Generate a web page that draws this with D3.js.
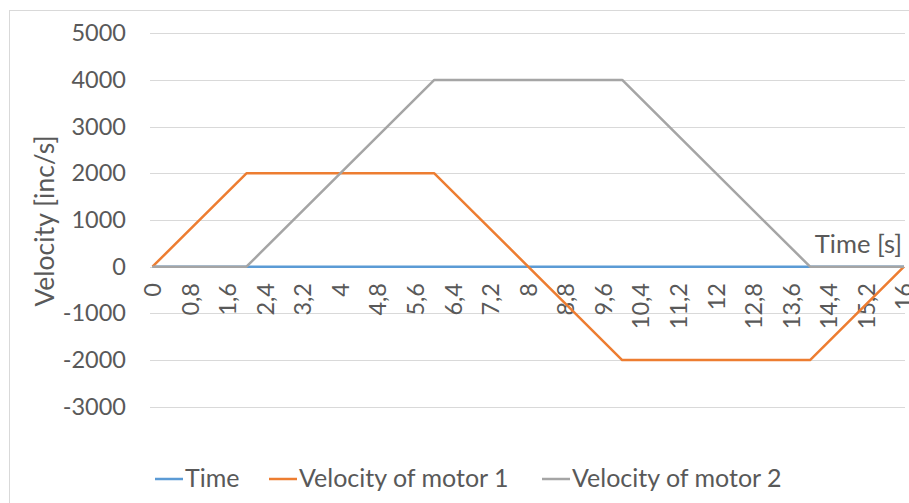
<!DOCTYPE html>
<html>
<head>
<meta charset="utf-8">
<script src="https://cdn.jsdelivr.net/npm/d3@7"></script>
<style>
  html, body { margin: 0; padding: 0; background: #fff; }
  svg { display: block; }
  text { font-family: Lato, "Open Sans", sans-serif; fill: #595959; }
</style>
</head>
<body>
<svg id="chart" width="909" height="503"></svg>
<script>
// Motion profile: breakpoints of the velocity curves (time in seconds)
const timeSec      = [0, 2, 6, 10, 14, 16];
const timeSeries   = [0, 0, 0, 0, 0, 0];
const motor1       = [0, 2000, 2000, -2000, -2000, 0];
const motor2       = [0, 0, 4000, 4000, 0, 0];

const seriesNames  = ["Time", "Velocity of motor 1", "Velocity of motor 2"];
const seriesColors = ["#5B9BD5", "#ED7D31", "#A5A5A5"];

const xTicks = d3.range(0, 21).map(i => +(i * 0.8).toFixed(1));
const yTicks = [-3000, -2000, -1000, 0, 1000, 2000, 3000, 4000, 5000];

const svg = d3.select("#chart");

// outer chart frame
svg.append("rect")
  .attr("x", 9.5).attr("y", 10.5)
  .attr("width", 920).attr("height", 520)
  .attr("fill", "none").attr("stroke", "#D9D9D9");

const x = d3.scaleLinear().domain([0, 16]).range([152.5, 904]);
const y = d3.scaleLinear().domain([-3000, 5000]).range([406.7, 33.3]);

// horizontal gridlines
svg.append("g").selectAll("line").data(yTicks).join("line")
  .attr("x1", 150).attr("x2", 905)
  .attr("y1", d => Math.round(y(d)) + 0.5).attr("y2", d => Math.round(y(d)) + 0.5)
  .attr("stroke", "#D9D9D9").attr("stroke-width", 1);

// y tick labels
const yAxis = d3.axisLeft(y).tickValues(yTicks).tickSize(0).tickPadding(0)
  .tickFormat(d => String(d));
const gy = svg.append("g").attr("transform", "translate(126,0)").call(yAxis);
gy.select(".domain").remove();
gy.selectAll("text").style("font-size", "23.5px").attr("fill", "#595959")
  .attr("font-family", "Lato");

// x tick labels, rotated, hanging below the zero line
const xFmt = d => String(d).replace(".", ",");
svg.append("g").selectAll("text").data(xTicks).join("text")
  .attr("transform", d => `translate(${x(d)},283) rotate(-90)`)
  .attr("text-anchor", "end")
  .attr("dy", "0.36em")
  .style("font-size", "23.5px")
  .text(xFmt);

// series lines
const line = d3.line().x((d, i) => x(timeSec[i])).y(d => y(d));
[timeSeries, motor1, motor2].forEach((vals, k) => {
  svg.append("path")
    .attr("d", line(vals))
    .attr("fill", "none")
    .attr("stroke", seriesColors[k])
    .attr("stroke-width", 2.5)
    .attr("stroke-linejoin", "round");
});

// axis titles
svg.append("text")
  .attr("transform", "translate(54,221) rotate(-90)")
  .attr("text-anchor", "middle")
  .style("font-size", "26.5px")
  .text("Velocity [inc/s]");

svg.append("text")
  .attr("x", 902).attr("y", 253)
  .attr("text-anchor", "end")
  .style("font-size", "25.5px")
  .text("Time [s]");

// legend
const legendX = [155, 269, 542];
const lg = svg.append("g");
seriesNames.forEach((name, k) => {
  lg.append("line")
    .attr("x1", legendX[k]).attr("x2", legendX[k] + 28)
    .attr("y1", 479).attr("y2", 479)
    .attr("stroke", seriesColors[k]).attr("stroke-width", 2.5);
  lg.append("text")
    .attr("x", legendX[k] + 30).attr("y", 487)
    .style("font-size", "25px")
    .text(name);
});
</script>
</body>
</html>
